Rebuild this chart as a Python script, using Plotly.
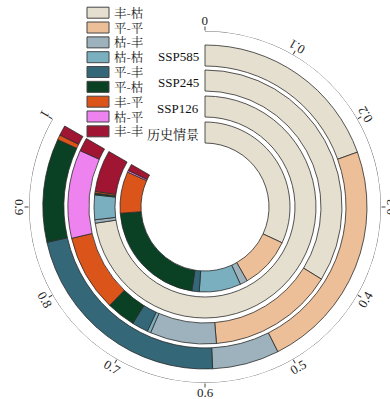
import math
import plotly.graph_objects as go

# Rings, from the centre outwards
scenarios = ["历史情景", "SSP126", "SSP245", "SSP585"]

# Transition categories, in stacking order (clockwise from 0)
categories = ["丰-枯", "平-平", "枯-丰", "枯-枯", "平-丰", "平-枯", "丰-平", "枯-平", "丰-丰"]
colors = ["#E5DFCF", "#EDBF98", "#9DB2BC", "#7AAFC0", "#346878",
          "#0A4124", "#DB541A", "#EE82EE", "#A01531"]

# Share of each category per scenario (same order as scenarios)
share_feng_ku = [0.383, 0.872, 0.406, 0.234]
share_ping_ping = [0.118, 0.000, 0.178, 0.277]
share_ku_feng = [0.017, 0.006, 0.094, 0.080]
share_ku_ku = [0.095, 0.043, 0.005, 0.000]
share_ping_feng = [0.017, 0.000, 0.023, 0.267]
share_ping_ku = [0.256, 0.003, 0.041, 0.124]
share_feng_ping = [0.095, 0.003, 0.109, 0.006]
share_ku_ping = [0.004, 0.000, 0.125, 0.000]
share_feng_feng = [0.015, 0.073, 0.019, 0.012]

shares = [share_feng_ku, share_ping_ping, share_ku_feng, share_ku_ku, share_ping_feng,
          share_ping_ku, share_feng_ping, share_ku_ping, share_feng_feng]

tick_values = [0, 0.1, 0.2, 0.3, 0.4, 0.5, 0.6, 0.7, 0.8, 0.9, 1.0]
tick_labels = ["0", "0.1", "0.2", "0.3", "0.4", "0.5", "0.6", "0.7", "0.8", "0.9", "1"]

# Geometry (pixels): a 1.0 share spans 300 degrees of the circle
W, H = 390, 399
SPAN = 300.0
CX, CY = 205, 207          # centre, from top-left
R_AXIS = 176               # outer arc radius
R_LABEL = 185              # tick label radius
ring_base = [64, 90, 116, 141]
ring_width = 21

SERIF = "Liberation Serif, Times New Roman, serif"
CJK = "Noto Serif CJK SC, Noto Sans CJK SC, sans-serif"
AXIS_COLOR = "#444444"

fig = go.Figure()

start = [0.0] * len(scenarios)
for cat, col, vals in zip(categories, colors, shares):
    thetas, widths, rs, bases = [], [], [], []
    for i, v in enumerate(vals):
        if v > 0:
            thetas.append((start[i] + v / 2) * SPAN)
            widths.append(v * SPAN)
            rs.append(ring_width)
            bases.append(ring_base[i])
        start[i] += v
    fig.add_trace(go.Barpolar(
        name=cat, theta=thetas, width=widths, r=rs, base=bases,
        marker=dict(color=col, line=dict(color="#2b2b2b", width=0.8)),
        showlegend=False, hoverinfo="skip",
    ))

# Outer scale arc, from 0 to 1
arc_theta = [SPAN * k / 300 for k in range(301)]
fig.add_trace(go.Scatterpolar(
    theta=arc_theta, r=[R_AXIS] * len(arc_theta), mode="lines",
    line=dict(color=AXIS_COLOR, width=0.9), showlegend=False, hoverinfo="skip",
))

dom_x = [(CX - R_AXIS) / W, (CX + R_AXIS) / W]
dom_y = [1 - (CY + R_AXIS) / H, 1 - (CY - R_AXIS) / H]

fig.update_layout(
    width=W, height=H,
    margin=dict(l=0, r=0, t=0, b=0),
    paper_bgcolor="white",
    showlegend=False,
    polar=dict(
        domain=dict(x=dom_x, y=dom_y),
        hole=0,
        bgcolor="rgba(0,0,0,0)",
        angularaxis=dict(
            direction="clockwise", rotation=90, thetaunit="degrees",
            tickmode="array", tickvals=[v * SPAN for v in tick_values],
            showticklabels=False, ticks="outside", ticklen=4,
            tickcolor=AXIS_COLOR, tickwidth=0.9,
            showline=False, showgrid=False,
        ),
        radialaxis=dict(
            range=[0, R_AXIS], showticklabels=False, ticks="",
            showline=False, showgrid=False,
        ),
    ),
)

annotations = []

# Tangential angular tick labels
for v, lab in zip(tick_values, tick_labels):
    th = v * SPAN
    x = CX + R_LABEL * math.sin(math.radians(th))
    y = CY - R_LABEL * math.cos(math.radians(th))
    angle = round(th - 180, 6)
    annotations.append(dict(
        x=x / W, y=1 - y / H, xref="paper", yref="paper",
        text=lab, showarrow=False, textangle=angle,
        xanchor="center", yanchor="middle",
        font=dict(family=SERIF, size=13, color="#222222"),
    ))

# Scenario names at the start of each ring
for name, b in zip(scenarios, ring_base):
    y = CY - (b + ring_width / 2) + 1.5
    annotations.append(dict(
        x=(CX - 4) / W, y=1 - y / H, xref="paper", yref="paper",
        text=name, showarrow=False, xanchor="right", yanchor="middle",
        font=dict(family=SERIF + ", " + CJK, size=13, color="#111111"),
    ))

# Legend: swatches and labels
shapes = []
LX0, LX1, LY0, LDY, LH = 87, 109, 12.7, 14.83, 11
for k, (cat, col) in enumerate(zip(categories, colors)):
    yc = LY0 + k * LDY
    shapes.append(dict(
        type="rect", xref="paper", yref="paper",
        x0=LX0 / W, x1=LX1 / W, y0=1 - (yc - LH / 2) / H, y1=1 - (yc + LH / 2) / H,
        fillcolor=col, line=dict(color="#444444", width=1),
    ))
    annotations.append(dict(
        x=(LX1 + 4) / W, y=1 - yc / H, xref="paper", yref="paper",
        text=cat, showarrow=False, xanchor="left", yanchor="middle",
        height=14, valign="middle", borderpad=0,
        font=dict(family=CJK, size=12.5, color="#222222"),
    ))

fig.update_layout(annotations=annotations, shapes=shapes)
fig.write_html("out.html")
